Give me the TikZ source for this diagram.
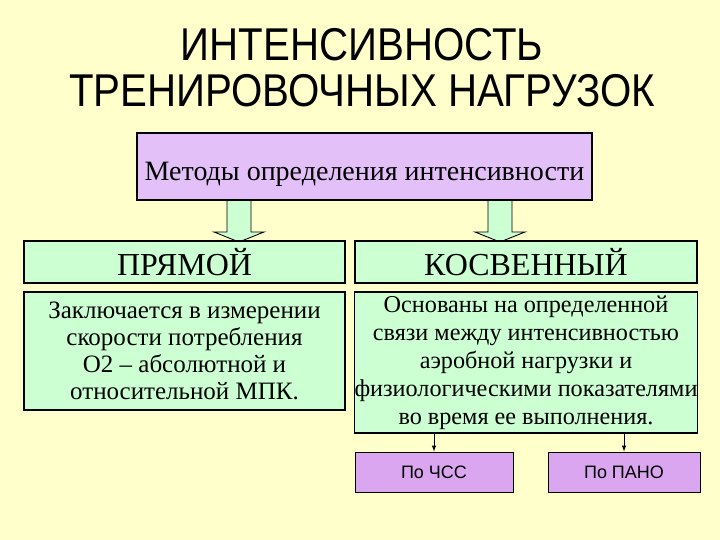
\documentclass[tikz,border=0pt]{standalone}
\usepackage{fontspec}
\setmainfont{Liberation Serif}
\newfontfamily\titlefont[FakeStretch=0.875]{Liberation Sans}
\newfontfamily\labelfont{Liberation Sans}
\usepackage{xcolor}
\usetikzlibrary{arrows.meta}
\usetikzlibrary{positioning,calc}
\tikzset{>=latex}
\definecolor{bgyellow}{RGB}{255,255,204}
\definecolor{boxlilac}{RGB}{228,192,248}
\definecolor{boxgreen}{RGB}{204,255,210}
\definecolor{tagviolet}{RGB}{218,166,240}
\tikzset{
  plainbox/.style={draw, line width=1.4pt, inner sep=0pt, align=center},
  greenbox/.style={plainbox, fill=boxgreen},
  blockarrow/.style={draw, line width=0.9pt, fill=boxgreen},
}

\begin{document}
\begin{tikzpicture}[x=1pt, y=-1pt]
            \fill[bgyellow] (0,0) rectangle (720,540);
            \useasboundingbox (0,0) rectangle (720,540);
            % title
            \node[font=\titlefont\fontsize{46}{46}\selectfont, align=center] (title) at (362,68) {ИНТЕНСИВНОСТЬ\\ТРЕНИРОВОЧНЫХ НАГРУЗОК};
            % block arrows go under the boxes
            \foreach \ax in {239, 500} {
                \draw[blockarrow] (\ax-12,198) -- (\ax-12,232) -- (\ax-25,232) -- (\ax,242) -- (\ax+25,232) -- (\ax+12,232) -- (\ax+12,198);
            }
            \node[plainbox, fill=boxlilac, minimum width=455, minimum height=67, text height=29pt, text depth=0pt, font=\fontsize{28}{30}\selectfont] (methods) at (364.5,166.5) {Методы определения интенсивности};
            \node[greenbox, minimum width=321, minimum height=42, font=\fontsize{32}{34}\selectfont] (direct) at (184.5,262) {ПРЯМОЙ};
            \node[greenbox, minimum width=342, minimum height=42, font=\fontsize{32}{34}\selectfont] (indirect) at (526,262) {КОСВЕННЫЙ};
            \node[greenbox, minimum width=321, minimum height=118, font=\fontsize{25}{27}\selectfont] (direct-text) at (184.5,351) {Заключается в измерении\\скорости потребления\\О2 – абсолютной и\\относительной МПК.};
            \node[greenbox, minimum width=342, minimum height=141, font=\fontsize{24.2}{28}\selectfont] (indirect-text) at (526,362.5) {Основаны на определенной\\связи между интенсивностью\\аэробной нагрузки и\\физиологическими показателями\\во время ее выполнения.};
            \node[plainbox, line width=1pt, fill=tagviolet, minimum width=158, minimum height=40, font=\labelfont\fontsize{18}{20}\selectfont] (hr) at (434,472) {По ЧСС};
            \node[plainbox, line width=1pt, fill=tagviolet, minimum width=152, minimum height=40, font=\labelfont\fontsize{18}{20}\selectfont] (pano) at (624,472) {По ПАНО};
            \coordinate (hr-start) at (hr.north |- indirect-text.south);
            \coordinate (pano-start) at (pano.north |- indirect-text.south);
            \draw[->, line width=1pt] (hr-start) -- (hr.north);
            \draw[->, line width=1pt] (pano-start) -- (pano.north);
        \end{tikzpicture}
\end{document}
